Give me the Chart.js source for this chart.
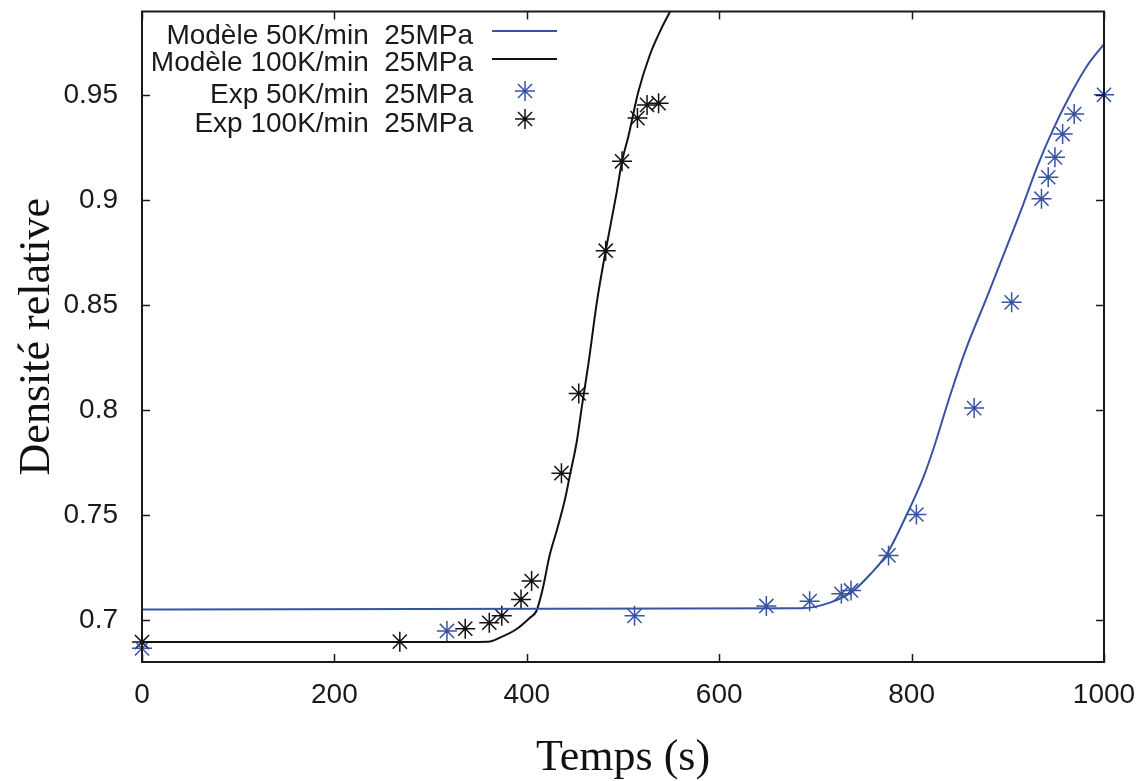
<!DOCTYPE html>
<html>
<head>
<meta charset="utf-8">
<script src="https://cdn.jsdelivr.net/npm/chart.js@4.4.0/dist/chart.umd.min.js"></script>
<style>
  body { margin: 0; background: #fff; }
  #wrap { width: 1139px; height: 781px; }
</style>
</head>
<body>
<div id="wrap"><canvas id="grafico" width="1139" height="781"></canvas></div>
<script>
// axes
const xTicks = [0, 200, 400, 600, 800, 1000];
const yTicks = [0.7, 0.75, 0.8, 0.85, 0.9, 0.95];
const xMin = 0, xMax = 1000;
const yMin = 0.68, yMax = 0.99;

// Modèle 50K/min (courbe bleue)
const modele50X = [0, 686, 715, 739, 757, 774, 795, 812, 823, 840, 857, 878, 897, 916, 930, 947, 965, 982, 1000];
const modele50Y = [0.705, 0.7056, 0.7083, 0.7138, 0.7218, 0.7313, 0.7503, 0.7678, 0.782, 0.807, 0.8297, 0.8535, 0.8757, 0.898, 0.9154, 0.9337, 0.9503, 0.9638, 0.9745];

// Modèle 100K/min (courbe noire)
const modele100X = [0, 300, 360, 372, 389, 403, 410, 416, 424, 431, 440, 445, 452, 457, 464, 473, 482, 493, 499, 506, 516, 528, 540, 549];
const modele100Y = [0.6895, 0.6895, 0.6897, 0.6916, 0.6956, 0.701, 0.7043, 0.7138, 0.7313, 0.7424, 0.7582, 0.7694, 0.7852, 0.801, 0.822, 0.852, 0.876, 0.9027, 0.9186, 0.9313, 0.9519, 0.9694, 0.982, 0.99];

// points expérimentaux
const exp50X = [0, 317, 512, 649, 694, 727, 737, 776, 805, 865, 904, 935, 942, 949, 957, 969, 1000];
const exp50Y = [0.6865, 0.6948, 0.702, 0.7067, 0.709, 0.7125, 0.7141, 0.7308, 0.7503, 0.801, 0.8514, 0.9008, 0.911, 0.9205, 0.9316, 0.9411, 0.9503];

const exp100X = [0, 268, 336, 361, 374, 394, 405, 436, 454, 482, 499, 515, 525, 537];
const exp100Y = [0.6895, 0.6897, 0.6959, 0.6987, 0.702, 0.7098, 0.7186, 0.770, 0.808, 0.876, 0.9186, 0.9392, 0.9455, 0.9463];

const bleu = '#3953a4';
const noir = '#111111';
const police = "'Liberation Sans', Arial, sans-serif";
const policeTitre = "'Liberation Serif', 'Times New Roman', serif";

function pontos(xs, ys) {
    return xs.map((x, i) => ({ x: x, y: ys[i] }));
}

// cadre + graduations vers l'intérieur (style gnuplot)
const cadre = {
    id: 'cadre',
    afterDraw(chart) {
        const { ctx, chartArea: a, scales } = chart;
        ctx.save();
        ctx.strokeStyle = '#1a1a1a';
        ctx.lineWidth = 2;
        ctx.strokeRect(a.left, a.top, a.right - a.left, a.bottom - a.top);
        ctx.lineWidth = 1.5;
        ctx.beginPath();
        xTicks.forEach(v => {
            const px = Math.round(scales.x.getPixelForValue(v)) + 0.5;
            ctx.moveTo(px, a.bottom); ctx.lineTo(px, a.bottom - 8);
            ctx.moveTo(px, a.top); ctx.lineTo(px, a.top + 8);
        });
        yTicks.forEach(v => {
            const py = Math.round(scales.y.getPixelForValue(v)) + 0.5;
            ctx.moveTo(a.left, py); ctx.lineTo(a.left + 8, py);
            ctx.moveTo(a.right, py); ctx.lineTo(a.right - 8, py);
        });
        ctx.stroke();
        ctx.restore();
    }
};

// légende à droite du texte, comme gnuplot
const legende = {
    id: 'legende',
    afterDraw(chart) {
        const ctx = chart.ctx;
        const baseTexte = [44, 71, 103, 132];
        const baseSymbole = [31, 59, 91, 119];
        ctx.save();
        ctx.font = '28px ' + police;
        ctx.textAlign = 'right';
        ctx.textBaseline = 'alphabetic';
        chart.data.datasets.forEach((ds, i) => {
            const y = baseSymbole[i];
            ctx.fillStyle = '#1a1a1a';
            ctx.fillText(ds.label, 473, baseTexte[i]);
            ctx.strokeStyle = ds.borderColor;
            if (ds.showLine) {
                ctx.lineWidth = 2;
                ctx.beginPath();
                ctx.moveTo(492, y); ctx.lineTo(557, y);
                ctx.stroke();
            } else {
                const r = 10, cx = 525, d = r * Math.SQRT1_2;
                ctx.lineWidth = 1.5;
                ctx.beginPath();
                ctx.moveTo(cx - r, y); ctx.lineTo(cx + r, y);
                ctx.moveTo(cx, y - r); ctx.lineTo(cx, y + r);
                ctx.moveTo(cx - d, y - d); ctx.lineTo(cx + d, y + d);
                ctx.moveTo(cx - d, y + d); ctx.lineTo(cx + d, y - d);
                ctx.stroke();
            }
        });
        ctx.restore();
    }
};

const ctx = document.getElementById('grafico').getContext('2d');

new Chart(ctx, {
    type: 'scatter',
    data: {
        datasets: [
            {
                label: 'Modèle 50K/min  25MPa',
                data: pontos(modele50X, modele50Y),
                showLine: true,
                borderColor: bleu,
                borderWidth: 2,
                pointRadius: 0,
                cubicInterpolationMode: 'monotone'
            },
            {
                label: 'Modèle 100K/min  25MPa',
                data: pontos(modele100X, modele100Y),
                showLine: true,
                borderColor: noir,
                borderWidth: 2,
                pointRadius: 0,
                cubicInterpolationMode: 'monotone'
            },
            {
                label: 'Exp 50K/min  25MPa',
                data: pontos(exp50X, exp50Y),
                showLine: false,
                borderColor: bleu,
                backgroundColor: bleu,
                pointStyle: 'star',
                pointRadius: 10,
                pointBorderWidth: 1.5,
                clip: false
            },
            {
                label: 'Exp 100K/min  25MPa',
                data: pontos(exp100X, exp100Y),
                showLine: false,
                borderColor: noir,
                backgroundColor: noir,
                pointStyle: 'star',
                pointRadius: 10,
                pointBorderWidth: 1.5,
                clip: false
            }
        ]
    },
    options: {
        responsive: false,
        animation: false,
        layout: { padding: { left: 0, top: 10, right: 35, bottom: 0 } },
        plugins: {
            legend: { display: false },
            tooltip: { enabled: false }
        },
        scales: {
            x: {
                type: 'linear',
                min: xMin,
                max: xMax,
                afterBuildTicks: s => { s.ticks = xTicks.map(v => ({ value: v })); },
                afterFit: s => { s.height = 119; s.paddingLeft = 0; s.paddingRight = 0; },
                grid: { display: false },
                border: { display: false },
                ticks: {
                    padding: 8,
                    color: '#1a1a1a',
                    font: { family: police, size: 28 },
                    maxRotation: 0,
                    callback: v => String(v)
                },
                title: {
                    display: true,
                    text: 'Temps (s)',
                    color: '#111',
                    font: { family: policeTitre, size: 44 },
                    padding: { top: 0, bottom: -4 }
                }
            },
            y: {
                type: 'linear',
                min: yMin,
                max: yMax,
                afterBuildTicks: s => { s.ticks = yTicks.map(v => ({ value: v })); },
                afterFit: s => { s.width = 142; s.paddingTop = 0; s.paddingBottom = 0; },
                grid: { display: false },
                border: { display: false },
                ticks: {
                    padding: 16,
                    color: '#1a1a1a',
                    font: { family: police, size: 28 },
                    callback: v => String(v)
                },
                title: {
                    display: true,
                    text: 'Densité relative',
                    color: '#111',
                    font: { family: policeTitre, size: 44 },
                    padding: { top: 11, bottom: 0 }
                }
            }
        }
    },
    plugins: [cadre, legende]
});
</script>
</body>
</html>
